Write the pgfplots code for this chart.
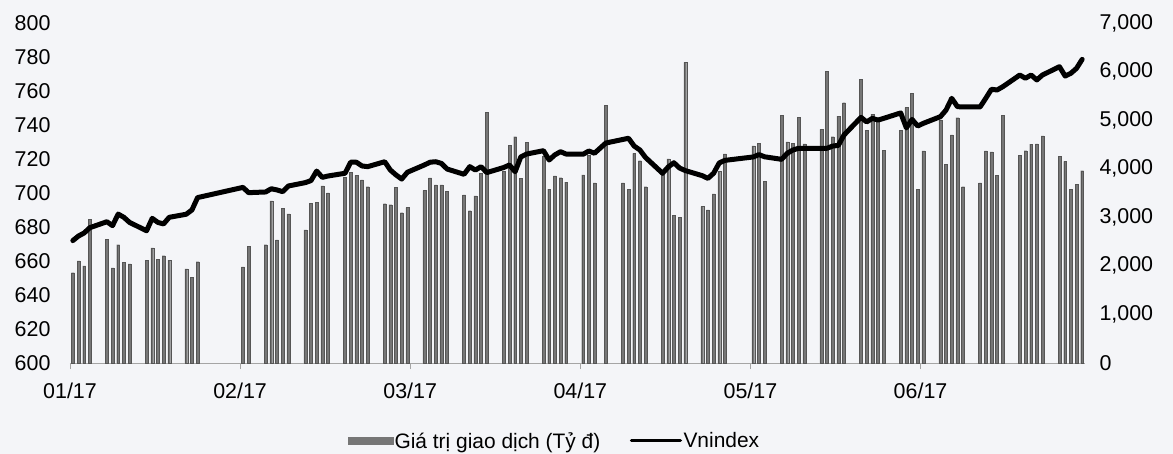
\documentclass[border=0pt]{standalone}
\usepackage{fontspec}
\setmainfont{Liberation Sans}
\usepackage{pgfplots}
\pgfplotsset{compat=1.18}
\usepackage{pgfplotstable}

\definecolor{bg}{RGB}{244,245,248}
\definecolor{barfill}{RGB}{118,118,118}
\definecolor{baredge}{RGB}{85,85,85}
\definecolor{axisgray}{RGB}{165,165,165}

\pgfplotstableread{
d v
0 1860
1 2105
2 2000
3 2960
6 2540
7 1960
8 2435
9 2075
10 2040
13 2120
14 2370
15 2140
16 2210
17 2120
20 1940
21 1770
22 2085
30 1980
31 2400
34 2435
35 3340
36 2535
37 3185
38 3070
41 2740
42 3290
43 3310
44 3645
45 3500
48 3825
49 3930
50 3865
51 3770
52 3630
55 3280
56 3260
57 3615
58 3095
59 3200
62 3550
63 3810
64 3665
65 3665
66 3540
69 3460
70 3135
71 3440
72 3905
73 5155
76 3940
77 4475
78 4660
79 3800
80 4545
83 4250
84 3580
85 3850
86 3815
87 3725
90 3875
91 4275
92 3710
94 5300
97 3710
98 3580
99 4315
100 4165
101 3630
104 3870
105 4200
106 3035
107 3000
108 6190
111 3220
112 3150
113 3480
114 3940
115 4305
120 4470
121 4525
122 3745
125 5105
126 4555
127 4525
128 5060
129 4510
132 4810
133 6000
134 4660
135 5085
136 5360
139 5840
140 4795
141 5125
142 5005
143 4385
146 4795
147 5260
148 5550
149 3575
150 4365
153 5005
154 4095
155 4695
156 5050
157 3630
160 3710
161 4365
162 4345
163 3870
164 5105
167 4280
168 4370
169 4505
170 4510
171 4675
174 4250
175 4150
176 3575
177 3685
178 3960
}\bars

\pgfplotstableread{
d v
0 672
1 674.7
2 676.5
3 679.6
6 683.1
7 680.8
8 687.6
9 685.7
10 682.7
13 677.8
14 685.1
15 682.7
16 681.8
17 685.7
20 687.5
21 690
22 697.3
30 703.3
31 700.2
34 700.6
35 702.5
36 701.8
37 700.8
38 704.1
41 706.1
42 707.3
43 712.9
44 709.2
45 710
48 711.6
49 718.1
50 718.1
51 715.9
52 715.5
55 718.4
56 713.5
57 710.6
58 708.2
59 712.2
62 716.5
63 718.1
64 718.4
65 717.4
66 714.1
69 711
70 715.5
71 713.5
72 715.5
73 712
76 715
77 716.5
78 712.5
79 721.2
80 722.9
83 724.9
84 719.4
85 722.4
86 724.3
87 722.9
90 722.8
91 724.7
92 723.4
94 729.4
97 731.5
98 732.2
99 727.6
100 725.3
101 720.9
104 711.6
105 715.3
106 717.8
107 714.7
108 713.2
111 710.2
112 708.6
113 711.6
114 717.7
115 719.2
120 721.2
121 722.6
122 721.3
125 719.8
126 723.4
127 725.3
128 726.3
129 726.3
132 726.3
133 726.3
134 727.6
135 728
136 734.1
139 744.5
140 741.8
141 743.9
142 742.9
143 743.9
146 747.1
147 738.3
148 743.3
149 739.4
150 741
153 744.9
154 748.8
155 755.7
156 750.8
157 750.6
160 750.6
161 755.7
162 761
163 760.6
164 762.5
167 769.4
168 767.5
169 769.4
170 766.5
171 769.4
174 774.3
175 768.8
176 770.4
177 773.3
178 778.6
}\vn

\begin{document}
\begin{tikzpicture}
\useasboundingbox (-70bp,-91bp) rectangle (1103bp,363bp);
\fill[bg] (-70bp,-91bp) rectangle (1103bp,363bp);
\pgfplotsset{
  common/.style={
    scale only axis, width=1015bp, height=340bp,
    xmin=-0.5, xmax=178.5,
    font=\fontsize{21.5}{25}\selectfont,
    /pgf/number format/assume math mode=true,
    major tick length=6bp,
    tick align=outside,
  }
}
\begin{axis}[common,
  axis y line*=right,
  axis x line*=bottom,
  x axis line style={draw=axisgray, line width=0.8bp, -},
  y axis line style={draw=none},
  ymin=0, ymax=7000, ytick={0,1000,...,7000},
  scaled y ticks=false,
  /pgf/number format/1000 sep={,},
  y tick label style={xshift=5bp},
  xtick={-0.5,29.5,59.5,89.5,119.5,149.5},
  xticklabels={01/17,02/17,03/17,04/17,05/17,06/17},
  x tick style={draw=axisgray, line width=0.8bp},
  y tick style={draw=none},
  x tick label style={yshift=-10bp},
]
\addplot[ybar, bar width=2.9bp, fill=barfill, draw=baredge, line width=0.3bp] table[x=d,y=v]{\bars};
\end{axis}
\begin{axis}[common,
  axis y line*=left,
  axis x line=none,
  ymin=600, ymax=800, ytick={600,620,...,800},
  y axis line style={draw=none},
  y tick style={draw=none},
  y tick label style={xshift=-10bp},
  legend columns=2,
  legend style={at={(rel axis cs:0.477,-0.229)}, anchor=center, draw=none, fill=none,
    font=\fontsize{21}{25}\selectfont,
    /tikz/every even column/.append style={column sep=28bp},
    nodes={inner sep=1.5bp}},
]
\addlegendimage{legend image code/.code={\fill[barfill] (0bp,-3.5bp) rectangle (45bp,3.5bp);}}
\addlegendentry{Giá trị giao dịch (Tỷ đ)}
\addplot[black, line width=5bp, line join=round, line cap=round,
  legend image code/.code={\draw[black, line width=3.2bp] (0bp,0bp) -- (49bp,0bp);}] table[x=d,y=v]{\vn};
\addlegendentry{Vnindex}
\end{axis}
\end{tikzpicture}
\end{document}
